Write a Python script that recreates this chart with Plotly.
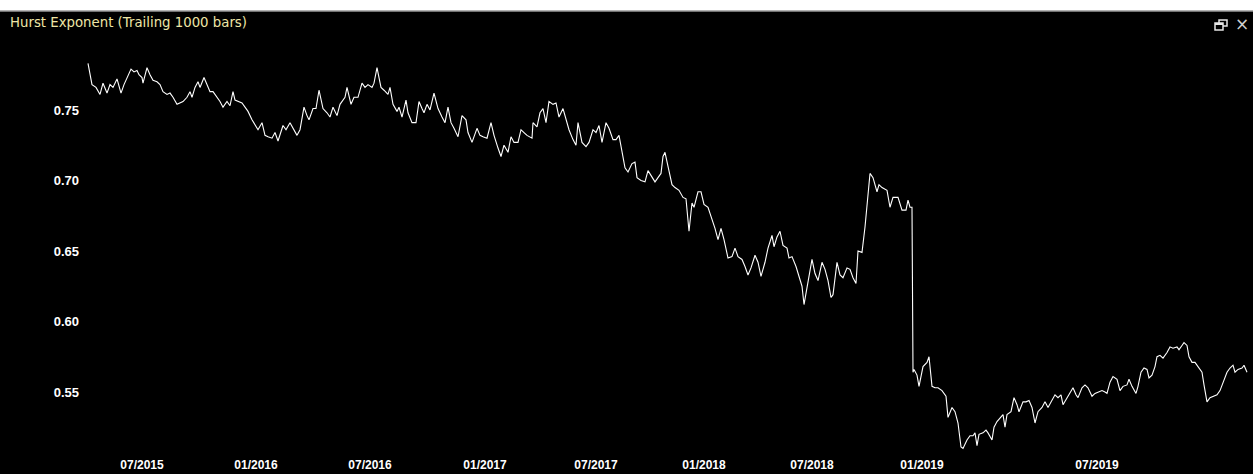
import plotly.graph_objects as go

# ---- data ----
bars = [
    0, 4, 8, 12, 15, 19, 22, 25, 29, 30,
    33, 36, 40, 43, 46, 49, 51, 54, 55, 59,
    62, 65, 69, 72, 75, 79, 82, 85, 89, 92,
    95, 99, 102, 104, 107, 110, 112, 116, 119, 122,
    125, 129, 132, 135, 139, 142, 145, 147, 150, 154,
    157, 160, 164, 167, 170, 174, 177, 180, 184, 187,
    190, 195, 198, 202, 205, 209, 212, 216, 219, 221,
    225, 228, 231, 235, 239, 242, 245, 249, 252, 257,
    259, 263, 266, 270, 274, 277, 280, 284, 286, 289,
    291, 293, 296, 300, 302, 305, 309, 311, 314, 318,
    320, 324, 328, 331, 334, 336, 339, 342, 346, 350,
    354, 357, 360, 363, 366, 370, 374, 378, 380, 384,
    389, 392, 395, 399, 403, 406, 410, 413, 416, 420,
    423, 426, 430, 433, 436, 439, 444, 445, 449, 452,
    455, 458, 461, 465, 468, 471, 475, 478, 481, 485,
    488, 490, 494, 498, 501, 505, 508, 511, 514, 518,
    521, 525, 528, 531, 534, 537, 540, 544, 547, 549,
    553, 557, 560, 564, 567, 570, 573, 575, 577, 580,
    584, 587, 591, 595, 598, 601, 604, 606, 610, 613,
    616, 620, 624, 627, 630, 633, 636, 640, 644, 647,
    650, 654, 657, 660, 663, 667, 670, 673, 677, 680,
    684, 686, 689, 692, 695, 699, 701, 704, 708, 711,
    714, 716, 719, 721, 724, 727, 730, 734, 737, 740,
    743, 745, 749, 752, 755, 759, 762, 765, 768, 770,
    774, 777, 780, 782, 785, 789, 791, 794, 799, 802,
    805, 810, 814, 818, 820, 822, 824, 825, 826, 829,
    831, 835, 839, 841, 844, 847, 850, 854, 858, 860,
    864, 867, 870, 873, 875, 879, 882, 885, 887, 889,
    891, 895, 898, 900, 904, 906, 909, 913, 915, 917,
    919, 923, 926, 929, 931, 935, 938, 941, 944, 947,
    950, 954, 957, 960, 964, 967, 970, 973, 975, 979,
    982, 985, 988, 990, 994, 997, 1000, 1004, 1007, 1010,
    1014, 1017, 1019, 1022, 1025, 1029, 1032, 1035, 1039, 1041,
    1044, 1048, 1050, 1053, 1056, 1059, 1061, 1064, 1067, 1069,
    1072, 1075, 1079, 1082, 1085, 1089, 1091, 1094, 1096, 1099,
    1101, 1104, 1107, 1110, 1114, 1116, 1119, 1122, 1125, 1129,
    1132, 1135, 1139, 1142, 1145, 1147, 1150, 1154, 1156, 1159,
]

hurst = [
    0.783, 0.768, 0.766, 0.761, 0.769, 0.762, 0.768, 0.766, 0.772, 0.769,
    0.762, 0.768, 0.775, 0.779, 0.777, 0.778, 0.775, 0.773, 0.769, 0.780,
    0.775, 0.771, 0.770, 0.768, 0.763, 0.761, 0.762, 0.759, 0.754, 0.755,
    0.756, 0.759, 0.763, 0.759, 0.766, 0.770, 0.766, 0.773, 0.768, 0.763,
    0.763, 0.759, 0.756, 0.752, 0.756, 0.753, 0.763, 0.757, 0.756, 0.755,
    0.752, 0.749, 0.743, 0.739, 0.736, 0.741, 0.732, 0.731, 0.730, 0.734,
    0.728, 0.739, 0.736, 0.741, 0.737, 0.732, 0.736, 0.752, 0.746, 0.743,
    0.751, 0.751, 0.764, 0.751, 0.748, 0.745, 0.752, 0.746, 0.754, 0.759,
    0.766, 0.754, 0.759, 0.759, 0.769, 0.766, 0.768, 0.766, 0.769, 0.780,
    0.773, 0.766, 0.764, 0.761, 0.766, 0.754, 0.749, 0.752, 0.745, 0.757,
    0.748, 0.741, 0.741, 0.756, 0.751, 0.748, 0.754, 0.750, 0.762, 0.751,
    0.745, 0.741, 0.752, 0.741, 0.737, 0.731, 0.746, 0.743, 0.734, 0.727,
    0.737, 0.732, 0.731, 0.730, 0.741, 0.732, 0.723, 0.717, 0.725, 0.720,
    0.731, 0.727, 0.727, 0.736, 0.734, 0.732, 0.730, 0.741, 0.738, 0.748,
    0.751, 0.741, 0.756, 0.754, 0.755, 0.745, 0.751, 0.743, 0.736, 0.729,
    0.725, 0.741, 0.727, 0.724, 0.727, 0.736, 0.734, 0.739, 0.727, 0.741,
    0.737, 0.729, 0.729, 0.732, 0.720, 0.709, 0.706, 0.712, 0.713, 0.702,
    0.700, 0.699, 0.707, 0.702, 0.699, 0.702, 0.705, 0.717, 0.720, 0.710,
    0.697, 0.695, 0.693, 0.688, 0.687, 0.664, 0.684, 0.681, 0.692, 0.692,
    0.683, 0.681, 0.673, 0.666, 0.658, 0.666, 0.658, 0.645, 0.646, 0.652,
    0.646, 0.644, 0.639, 0.633, 0.638, 0.647, 0.642, 0.632, 0.642, 0.652,
    0.661, 0.653, 0.660, 0.664, 0.654, 0.652, 0.645, 0.646, 0.639, 0.631,
    0.625, 0.612, 0.625, 0.632, 0.644, 0.634, 0.629, 0.642, 0.637, 0.629,
    0.617, 0.619, 0.642, 0.633, 0.631, 0.638, 0.637, 0.631, 0.627, 0.650,
    0.649, 0.667, 0.691, 0.705, 0.702, 0.692, 0.697, 0.695, 0.693, 0.681,
    0.688, 0.688, 0.679, 0.679, 0.686, 0.681, 0.681, 0.564, 0.566, 0.562,
    0.554, 0.568, 0.571, 0.575, 0.554, 0.553, 0.553, 0.551, 0.547, 0.532,
    0.539, 0.536, 0.528, 0.511, 0.510, 0.516, 0.519, 0.519, 0.521, 0.512,
    0.520, 0.521, 0.523, 0.521, 0.516, 0.525, 0.529, 0.532, 0.534, 0.525,
    0.534, 0.536, 0.546, 0.541, 0.536, 0.543, 0.543, 0.544, 0.539, 0.528,
    0.536, 0.539, 0.543, 0.539, 0.544, 0.548, 0.546, 0.548, 0.541, 0.546,
    0.549, 0.553, 0.548, 0.546, 0.553, 0.555, 0.553, 0.547, 0.549, 0.550,
    0.551, 0.550, 0.549, 0.557, 0.561, 0.559, 0.551, 0.554, 0.555, 0.559,
    0.554, 0.549, 0.554, 0.564, 0.567, 0.566, 0.560, 0.562, 0.568, 0.575,
    0.576, 0.574, 0.578, 0.582, 0.581, 0.582, 0.580, 0.583, 0.585, 0.583,
    0.575, 0.571, 0.571, 0.568, 0.564, 0.555, 0.543, 0.546, 0.547, 0.548,
    0.551, 0.556, 0.564, 0.567, 0.569, 0.564, 0.566, 0.567, 0.569, 0.564,
]

month_ticks = [54, 168, 282, 397, 508, 616, 724, 834, 1009]
month_labels = ["07/2015", "01/2016", "07/2016", "01/2017", "07/2017",
                "01/2018", "07/2018", "01/2019", "07/2019"]

y_ticks = [0.55, 0.60, 0.65, 0.70, 0.75]
y_labels = ["0.55", "0.60", "0.65", "0.70", "0.75"]

title_text = "Hurst Exponent (Trailing 1000 bars)"

assert len(bars) == len(hurst)

W, H = 1253, 474
ML, MR, MT, MB = 85, 3, 11, 18
PW, PH = W - ML - MR, H - MT - MB


def px(x):
    return (x - ML) / PW


def py(y):
    return (H - MB - y) / PH


LABEL_FONT = "Liberation Sans, Arial, sans-serif"

fig = go.Figure()
fig.add_trace(go.Scatter(
    x=bars, y=hurst, mode="lines",
    line=dict(color="#ffffff", width=1.1),
    hoverinfo="skip", showlegend=False,
))

fig.update_layout(
    width=W, height=H,
    margin=dict(l=ML, r=MR, t=MT, b=MB, pad=0),
    paper_bgcolor="#000000", plot_bgcolor="#000000",
    font=dict(family=LABEL_FONT, size=12, color="#ffffff"),
    showlegend=False,
    xaxis=dict(
        range=[-3, 1162], showgrid=False, zeroline=False, showline=False,
        ticks="", tickmode="array", tickvals=month_ticks, ticktext=month_labels,
        tickfont=dict(size=12, color="#ffffff", family=LABEL_FONT, weight="bold"),
        fixedrange=True,
    ),
    yaxis=dict(
        range=[0.5046, 0.8202], showgrid=False, zeroline=False, showline=False,
        ticks="", tickmode="array", tickvals=y_ticks, ticktext=y_labels,
        tickfont=dict(size=13, color="#ffffff", family=LABEL_FONT, weight="bold"),
        ticklabelstandoff=5, fixedrange=True,
    ),
    shapes=[
        # white strip at the top of the window
        dict(type="rect", xref="paper", yref="paper", x0=px(0), x1=px(W),
             y0=py(11), y1=py(0), fillcolor="#ffffff", line=dict(width=0)),
        dict(type="line", xref="paper", yref="paper", x0=px(0), x1=px(W),
             y0=py(11), y1=py(11), line=dict(color="#9a9a9a", width=1.5)),
        # restore-window icon
        dict(type="rect", xref="paper", yref="paper", x0=px(1219), x1=px(1227),
             y0=py(26), y1=py(20), fillcolor="#000000",
             line=dict(color="#e6e6e6", width=1.5)),
        dict(type="rect", xref="paper", yref="paper", x0=px(1215), x1=px(1223),
             y0=py(30), y1=py(23), fillcolor="#000000",
             line=dict(color="#e6e6e6", width=1.5)),
        dict(type="line", xref="paper", yref="paper", x0=px(1215), x1=px(1223),
             y0=py(24), y1=py(24), line=dict(color="#e6e6e6", width=2)),
    ],
    annotations=[
        dict(text=title_text, xref="paper", yref="paper", x=px(8), y=py(22),
             xanchor="left", yanchor="middle", showarrow=False,
             font=dict(size=13.3, color="#eee6a6",
                       family="DejaVu Sans, sans-serif")),
        dict(text="\u00d7", xref="paper", yref="paper", x=px(1242), y=py(24),
             xanchor="center", yanchor="middle", showarrow=False,
             font=dict(size=17, color="#cfcfcf",
                       family="DejaVu Sans, sans-serif")),
    ],
)

fig.write_html(
    "out.html",
    config={"displayModeBar": False},
    post_script=(
        "document.body.style.margin='0';"
        "document.body.style.padding='0';"
        "document.documentElement.style.overflow='hidden';"
    ),
)
